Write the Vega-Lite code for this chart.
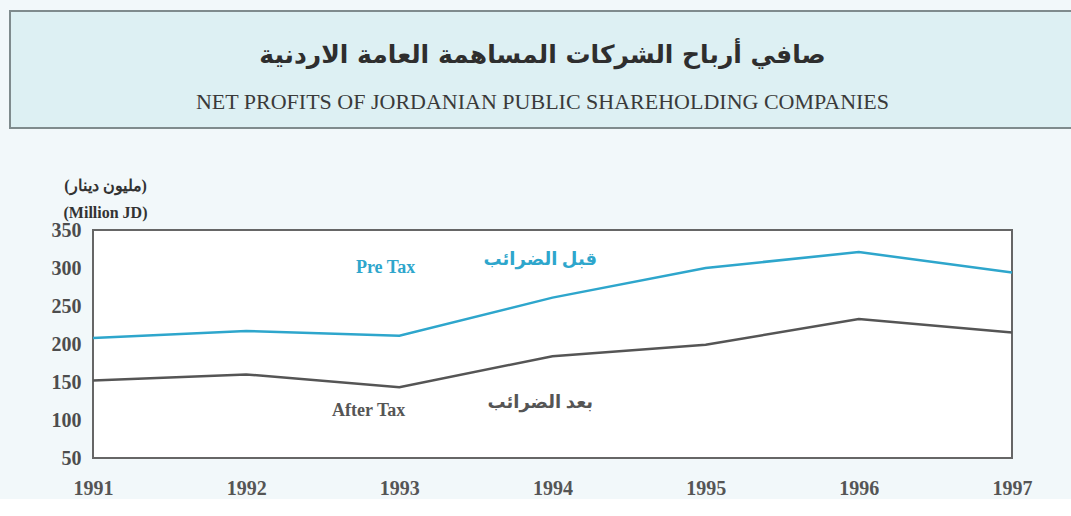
{
  "$schema": "https://vega.github.io/schema/vega-lite/v6.json",
  "background": "#f2f8fa",
  "padding": {"left": 9, "top": 10, "right": 0, "bottom": 0},
  "bounds": "flush",
  "center": true,
  "spacing": 102,
  "datasets": {
    "header": [
      {"line": "Arabic", "text": "صافي أرباح الشركات المساهمة العامة الاردنية"},
      {"line": "English", "text": "NET PROFITS OF JORDANIAN PUBLIC SHAREHOLDING COMPANIES"}
    ],
    "profits": [
      {"year": 1991, "series": "Pre Tax", "value": 208},
      {"year": 1992, "series": "Pre Tax", "value": 217},
      {"year": 1993, "series": "Pre Tax", "value": 211},
      {"year": 1994, "series": "Pre Tax", "value": 261},
      {"year": 1995, "series": "Pre Tax", "value": 300},
      {"year": 1996, "series": "Pre Tax", "value": 321},
      {"year": 1997, "series": "Pre Tax", "value": 294},
      {"year": 1991, "series": "After Tax", "value": 152},
      {"year": 1992, "series": "After Tax", "value": 160},
      {"year": 1993, "series": "After Tax", "value": 143},
      {"year": 1994, "series": "After Tax", "value": 184},
      {"year": 1995, "series": "After Tax", "value": 199},
      {"year": 1996, "series": "After Tax", "value": 233},
      {"year": 1997, "series": "After Tax", "value": 215}
    ],
    "labels": [
      {"year": 1992.91, "value": 300, "series": "Pre Tax", "text": "Pre Tax"},
      {"year": 1993.92, "value": 311, "series": "Pre Tax", "text": "قبل الضرائب"},
      {"year": 1992.8, "value": 112, "series": "After Tax", "text": "After Tax"},
      {"year": 1993.92, "value": 122, "series": "After Tax", "text": "بعد الضرائب"}
    ]
  },
  "vconcat": [
    {
      "width": 1085,
      "height": 117,
      "view": {"fill": "#ddf0f3", "stroke": "#7f8b8d", "strokeWidth": 2},
      "layer": [
        {
          "data": {"name": "header"},
          "transform": [{"filter": "datum.line === 'Arabic'"}],
          "mark": {"type": "text", "font": "DejaVu Sans", "fontWeight": "bold", "fontSize": 25, "color": "#2e2e2e", "baseline": "middle", "dx": -10},
          "encoding": {
            "y": {"field": "line", "type": "nominal", "axis": null, "bandPosition": 0.7,
                  "scale": {"type": "band", "domain": ["Arabic", "English"], "paddingInner": 0, "paddingOuter": 0.245}},
            "text": {"field": "text"}
          }
        },
        {
          "data": {"name": "header"},
          "transform": [{"filter": "datum.line === 'English'"}],
          "mark": {"type": "text", "font": "Liberation Serif", "fontSize": 22, "color": "#3a3a3a", "baseline": "middle", "dx": -10},
          "encoding": {
            "y": {"field": "line", "type": "nominal", "axis": null, "bandPosition": 0.7,
                  "scale": {"type": "band", "domain": ["Arabic", "English"], "paddingInner": 0, "paddingOuter": 0.245}},
            "text": {"field": "text"}
          }
        }
      ]
    },
    {
      "width": 919,
      "height": 228,
      "view": {"fill": "#ffffff", "stroke": "#666666", "strokeWidth": 2},
      "encoding": {
        "x": {"field": "year", "type": "quantitative",
              "scale": {"domain": [1991, 1997], "nice": false, "zero": false},
              "axis": {"values": [1991, 1992, 1993, 1994, 1995, 1996, 1997], "format": "d", "title": null,
                       "ticks": false, "domain": false, "grid": false, "labelPadding": 20,
                       "labelFont": "Liberation Serif", "labelFontSize": 20, "labelFontWeight": "bold",
                       "labelColor": "#555555", "labelFlush": false}},
        "y": {"field": "value", "type": "quantitative",
              "scale": {"domain": [50, 350], "nice": false, "zero": false},
              "axis": {"values": [50, 100, 150, 200, 250, 300, 350], "ticks": false, "domain": false, "grid": false,
                       "labelPadding": 12, "labelFont": "Liberation Serif", "labelFontSize": 20,
                       "labelFontWeight": "bold", "labelColor": "#4d4d4d", "labelFlush": false,
                       "title": ["(مليون دينار)", "(Million JD)"], "titleAngle": 0, "titleAlign": "center",
                       "titleBaseline": "middle", "titleX": 12, "titleY": -45, "titleLineHeight": 27,
                       "titleFont": "Liberation Serif", "titleFontSize": 16, "titleFontWeight": "bold",
                       "titleColor": "#333333"}},
        "color": {"field": "series", "type": "nominal",
                  "scale": {"domain": ["Pre Tax", "After Tax"], "range": ["#2ea6cc", "#555555"]},
                  "legend": null}
      },
      "layer": [
        {
          "data": {"name": "profits"},
          "mark": {"type": "line", "strokeWidth": 2.5}
        },
        {
          "data": {"name": "labels"},
          "mark": {"type": "text", "font": "Liberation Serif, DejaVu Sans", "fontWeight": "bold", "fontSize": 18, "baseline": "middle"},
          "encoding": {"text": {"field": "text"}}
        }
      ]
    }
  ]
}
